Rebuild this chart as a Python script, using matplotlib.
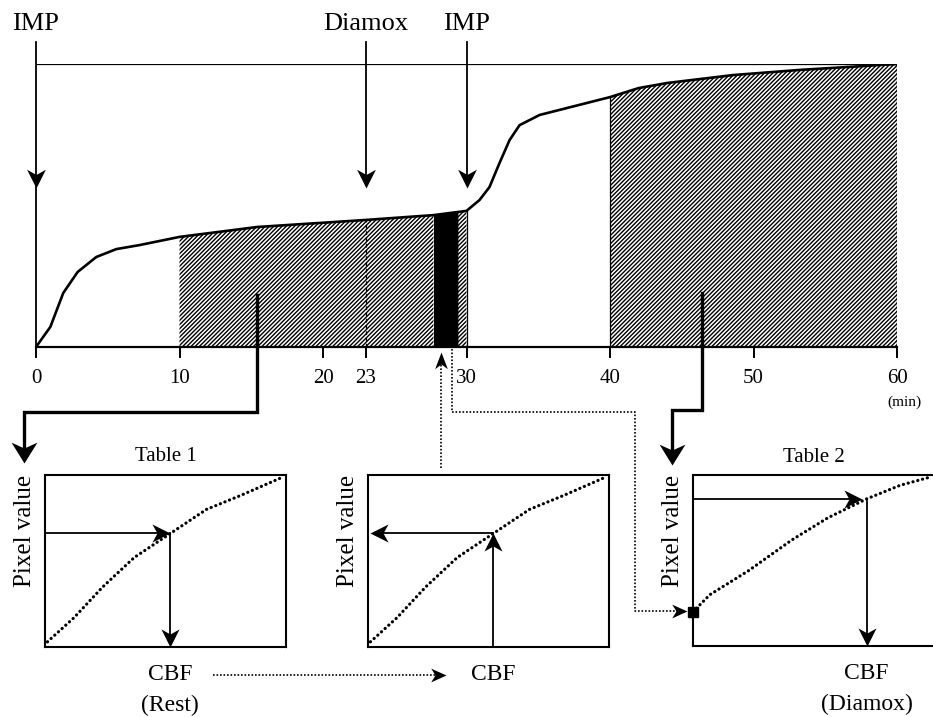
import numpy as np
import matplotlib
matplotlib.use("Agg")
import matplotlib.pyplot as plt
from matplotlib.path import Path

# IMP uptake curve: time (min) vs relative counts (100 = top line)
time_min = [0, 1, 1.9, 2.9, 4.2, 5.6, 7.2, 10, 15.4, 23, 27.7, 29.4, 30,
            30.9, 31.6, 32.3, 33.0, 33.7, 35.1, 40, 42, 44, 48.6, 53.2, 60]
counts = [0, 7.1, 19.1, 26.5, 31.8, 34.6, 36.0, 38.9, 42.4, 44.9, 46.6, 47.7, 48.1,
          51.9, 56.5, 65.0, 73.1, 78.4, 82.0, 88.3, 91.5, 93.3, 96.1, 97.9, 100]
xticks = [0, 10, 20, 23, 30, 40, 50, 60]
events_t = [0, 23, 30]
events_label = ["IMP", "Diamox", "IMP"]
rest_window = (10, 30)
diamox_window = (40, 60)
black_window = (27.7, 29.4)

# look-up tables (normalised CBF -> pixel value)
table1_cbf = [0.01, 0.12, 0.24, 0.37, 0.52, 0.67, 0.81, 0.99]
table1_pix = [0.03, 0.17, 0.35, 0.52, 0.66, 0.80, 0.88, 0.99]
table2_cbf = [0.0, 0.07, 0.23, 0.41, 0.56, 0.72, 0.86, 0.99]
table2_pix = [0.20, 0.30, 0.44, 0.62, 0.75, 0.86, 0.94, 0.99]
rest_read = (0.52, 0.66)
diamox_read = (0.72, 0.86)
diamox_start = (0.0, 0.20)

W, H = 933, 717
plt.rcParams['font.family'] = ['Liberation Serif', 'DejaVu Serif']
plt.rcParams['hatch.linewidth'] = 1.0
fig = plt.figure(figsize=(W / 100, H / 100), dpi=100)


def px_axes(x0, y0, x1, y1):
    return fig.add_axes([x0 / W, 1 - y1 / H, (x1 - x0) / W, (y1 - y0) / H])


def head(direction, hw=0.5, notch=0.72):
    # stealth style arrow head, tip at the marker position
    v = np.array([[0, 0], [-1, hw], [-notch, 0], [-1, -hw], [0, 0]], float)
    r = np.deg2rad({"right": 0, "up": 90, "left": 180, "down": 270}[direction])
    rot = np.array([[np.cos(r), np.sin(r)], [-np.sin(r), np.cos(r)]])
    return Path(v @ rot, [Path.MOVETO, Path.LINETO, Path.LINETO, Path.LINETO, Path.CLOSEPOLY])


def tip(a, x, y, direction, ms=26, hw=0.5):
    a.plot([x], [y], marker=head(direction, hw), ms=ms, color="k", mew=0, clip_on=False, zorder=6)


t = np.array(time_min)
c = np.array(counts)

# ---- main time-activity curve
ax = px_axes(36, 64, 897, 347)
ax.set_xlim(0, 60)
ax.set_ylim(0, 100)
for s in ["left", "right", "top"]:
    ax.spines[s].set_visible(False)
ax.spines["bottom"].set_linewidth(1.6)
ax.set_yticks([])
ax.set_xticks(xticks)
ax.tick_params(axis="x", length=8, width=1.4, labelsize=15, pad=8)
ax.patch.set_alpha(0)

hatch_kw = dict(facecolor="white", edgecolor="k", hatch="////////", lw=0)
ax.fill_between(t, 0, c, where=(t >= rest_window[0]) & (t <= black_window[0]), **hatch_kw)
ax.fill_between(t, 0, c, where=(t >= black_window[1]) & (t <= rest_window[1]), **hatch_kw)
ax.fill_between(t, 0, c, where=(t >= diamox_window[0]) & (t <= diamox_window[1]), **hatch_kw)
ax.fill_between(t, 0, c, where=(t >= black_window[0]) & (t <= black_window[1]),
                facecolor="black", edgecolor="k", lw=0)
for edge in [rest_window[1], diamox_window[0], diamox_window[1]]:
    ax.plot([edge, edge], [0, counts[time_min.index(edge)]], color="k", lw=0.9)

ax.plot(time_min, counts, color="k", lw=1.9, zorder=5)
ax.plot([0, 60], [100, 100], color="k", lw=0.9)
ax.plot([23, 23], [0, counts[time_min.index(23)]], color="k", lw=0.9, ls=(0, (3, 2)))

for et, lab in zip(events_t, events_label):
    ax.plot([et, et], [107.8, 58], color="k", lw=1.3, clip_on=False)
    tip(ax, et, 56.2, "down", ms=27, hw=0.5)
    ax.text(et, 114, lab, ha="center", va="center", fontsize=19)
ax.plot([0, 0], [58, 0], color="k", lw=1.3, clip_on=False)
ax.text(60.55, -19.5, "(min)", ha="center", va="center", fontsize=11)

# ---- look-up tables
t1 = px_axes(45, 475, 286, 647)
t2 = px_axes(368, 475, 609, 647)
t3 = px_axes(693, 475, 934, 646)
for a in [t1, t2, t3]:
    a.set_xlim(0, 1)
    a.set_ylim(0, 1)
    a.set_xticks([])
    a.set_yticks([])
    for s in a.spines.values():
        s.set_linewidth(1.5)
    a.text(-0.083, 0.675, "Pixel value", rotation=90, ha="center", va="center", fontsize=18)

dots = dict(color="k", lw=2.3, ls=(0, (0.05, 1.5)), dash_capstyle="round")
t1.plot(table1_cbf, table1_pix, **dots)
t2.plot(table1_cbf, table1_pix, **dots)
t3.plot(table2_cbf, table2_pix, **dots)

arrow_kw = dict(color="k", lw=1.3, clip_on=False)
# table 1: pixel value -> CBF (rest)
t1.plot([0, rest_read[0] - 0.03], [rest_read[1], rest_read[1]], **arrow_kw)
tip(t1, rest_read[0], rest_read[1], "right")
t1.plot([rest_read[0], rest_read[0]], [rest_read[1], 0.05], **arrow_kw)
tip(t1, rest_read[0], 0, "down")
# middle: CBF -> predicted pixel value
t2.plot([rest_read[0], rest_read[0]], [0, rest_read[1] - 0.05], **arrow_kw)
tip(t2, rest_read[0], rest_read[1], "up")
t2.plot([rest_read[0], 0.04], [rest_read[1], rest_read[1]], **arrow_kw)
tip(t2, 0.01, rest_read[1], "left")
# table 2: pixel value -> CBF (Diamox)
t3.plot([0, diamox_read[0] - 0.05], [diamox_read[1], diamox_read[1]], **arrow_kw)
tip(t3, diamox_read[0] - 0.02, diamox_read[1], "right")
t3.plot([diamox_read[0], diamox_read[0]], [diamox_read[1], 0.05], **arrow_kw)
tip(t3, diamox_read[0], 0, "down")
t3.plot([diamox_start[0]], [diamox_start[1]], marker="s", ms=7, color="k", clip_on=False, zorder=7)

t1.text(0.5, 1.105, "Table 1", ha="center", va="center", fontsize=15)
t3.text(0.5, 1.105, "Table 2", ha="center", va="center", fontsize=15)
lab_kw = dict(ha="center", va="center", fontsize=17)
t1.text(rest_read[0], -0.16, "CBF", **lab_kw)
t1.text(rest_read[0], -0.34, "(Rest)", **lab_kw)
t2.text(rest_read[0], -0.16, "CBF", **lab_kw)
t3.text(diamox_read[0], -0.16, "CBF", **lab_kw)
t3.text(diamox_read[0], -0.34, "(Diamox)", **lab_kw)

# ---- connectors (pixel layout)
lay = px_axes(0, 0, W, H)
lay.set_xlim(0, W)
lay.set_ylim(H, 0)
lay.axis("off")
thick = dict(color="k", lw=2.4, solid_joinstyle="miter")
lay.plot([257, 257, 24, 24], [295, 412, 412, 452], **thick)
tip(lay, 24, 463, "down", ms=30, hw=0.62)
lay.plot([702, 702, 672, 672], [293, 410, 410, 454], **thick)
tip(lay, 672, 465, "down", ms=30, hw=0.62)

fine = dict(color="k", lw=1.2, ls=(0, (1, 1.1)))
lay.plot([441, 441], [468, 362], **fine)
tip(lay, 441, 352, "up", ms=24, hw=0.38)
lay.plot([452, 452, 635, 635, 678], [349, 412, 412, 611, 611], **fine)
tip(lay, 687, 611, "right", ms=22, hw=0.45)
lay.plot([213, 438], [675, 675], **fine)
tip(lay, 446, 675, "right", ms=22, hw=0.45)

fig.savefig("out.png", dpi=100)
